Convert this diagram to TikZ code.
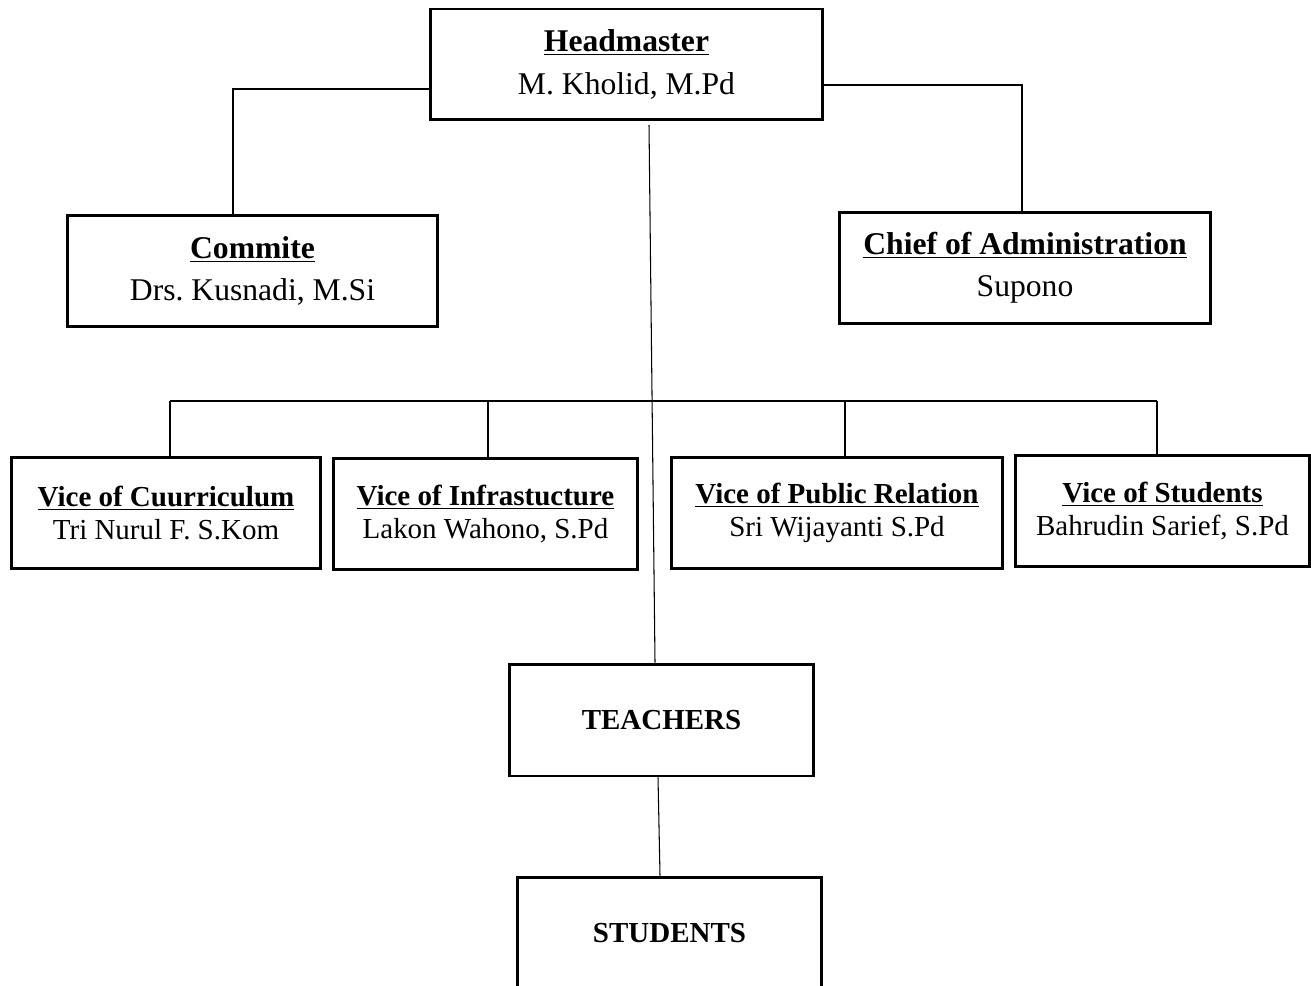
\documentclass[tikz,border=0pt]{standalone}
\usepackage{fontspec}
\setmainfont{Liberation Serif}
\usepackage{tikz}
\frenchspacing

\tikzset{
  jabatan/.style={draw, line width=1.7pt, inner sep=0pt, align=center,
    minimum height=2.24cm, font=\fontsize{18}{24}\selectfont},
  wakil/.style={jabatan, font=\fontsize{16.5}{19}\selectfont},
  garis/.style={line width=0.6pt}
}

\begin{document}
\begin{tikzpicture}[x=0.02cm, y=-0.02cm]
    \useasboundingbox (0,0) rectangle (1311,986);
    \node [jabatan, minimum width=7.86cm, minimum height=2.22cm] (hm) at (626.5,64.5)
        {\underline{\textbf{Headmaster}}\\M. Kholid, M.Pd};
    \node [jabatan, minimum width=7.42cm] (com) at (252.5,271)
        {\underline{\textbf{Commite}}\\Drs. Kusnadi, M.Si};
    \node [jabatan, minimum width=7.44cm] (chief) at (1025,268)
        {\underline{\textbf{Chief of Administration}}\\Supono};
    \node [wakil, minimum width=6.2cm] (v1) at (166,513)
        {\underline{\textbf{Vice of Cuurriculum}}\\Tri Nurul F. S.Kom};
    \node [wakil, minimum width=6.1cm] (v2) at (485.5,514)
        {\underline{\textbf{Vice of Infrastucture}}\\Lakon Wahono, S.Pd};
    \node [wakil, minimum width=6.64cm] (v3) at (837,513)
        {\underline{\textbf{Vice of Public Relation}}\\Sri Wijayanti S.Pd};
    \node [wakil, minimum width=5.9cm] (v4) at (1162.5,511)
        {\underline{\textbf{Vice of Students}}\\Bahrudin Sarief, S.Pd};
    \node [wakil, minimum width=6.1cm] (teach) at (661.5,720) {\textbf{TEACHERS}};
    \node [wakil, minimum width=6.1cm] (stud) at (669.5,933) {\textbf{STUDENTS}};

    \coordinate (bus) at (0,401);
    \coordinate (cTop) at (649,125);
    \draw [garis] (hm.west |- 0,89) -| ([xshift=-0.39cm]com.north);
    \draw [garis] (hm.east |- 0,85) -| ([xshift=-0.06cm]chief.north);
    \draw [garis] ([xshift=0.08cm]v1.north |- bus) -- ([xshift=-0.11cm]v4.north |- bus);
    \draw [garis] ([xshift=0.08cm]v1.north) -- ([xshift=0.08cm]v1.north |- bus);
    \draw [garis] ([xshift=0.05cm]v2.north) -- ([xshift=0.05cm]v2.north |- bus);
    \draw [garis] ([xshift=0.16cm]v3.north) -- ([xshift=0.16cm]v3.north |- bus);
    \draw [garis] ([xshift=-0.11cm]v4.north) -- ([xshift=-0.11cm]v4.north |- bus);
    \draw [garis] (cTop) -- ([xshift=-0.13cm]teach.north);
    \draw [garis] ([xshift=-0.07cm]teach.south) -- ([xshift=-0.19cm]stud.north);
\end{tikzpicture}
\end{document}
